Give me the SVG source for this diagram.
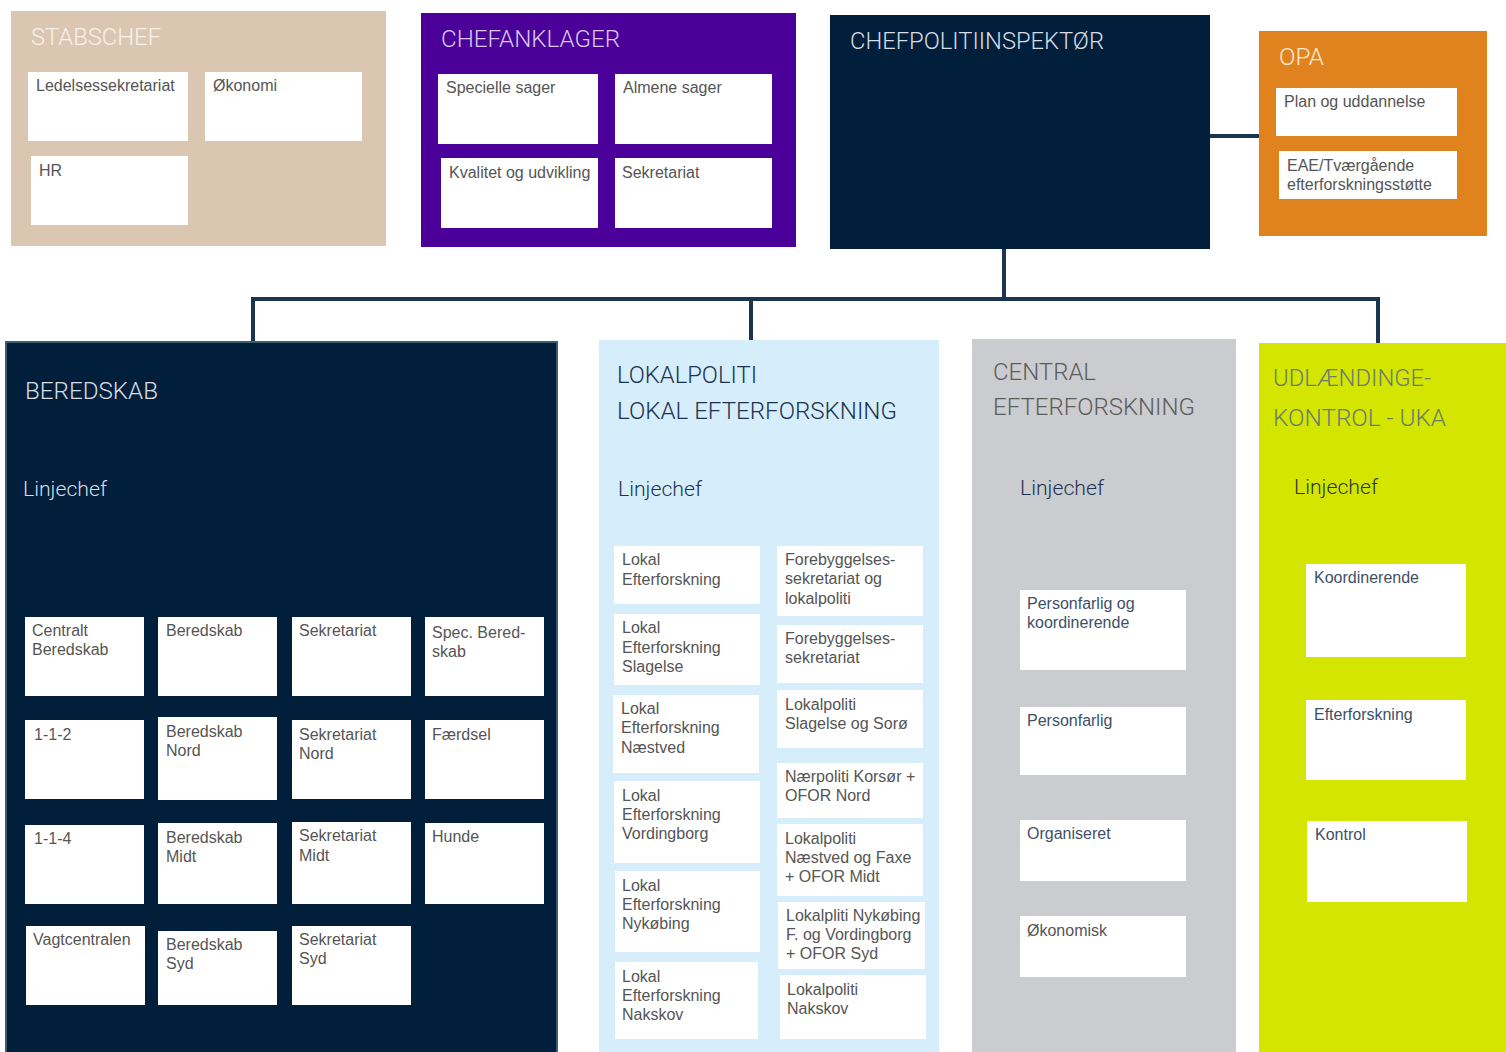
<svg xmlns="http://www.w3.org/2000/svg" width="1506" height="1052" viewBox="0 0 1506 1052">
<style>
.t{font-family:Roboto,"Liberation Sans",sans-serif;font-weight:300;font-size:23px}
.lc{font-family:Roboto,"Liberation Sans",sans-serif;font-weight:300;font-size:21px}
.b{font-family:"Liberation Sans",Arial,sans-serif;font-size:16px;fill:#555}
.bb{font-family:"Liberation Sans",Arial,sans-serif;font-size:16px;fill:#3d5068}
.w{fill:#fff}
.conn{stroke:#1b3550;stroke-width:4;fill:none}
</style>
<rect width="1506" height="1052" fill="#fff"/>
<g id="connectors">
<line class="conn" x1="1210" y1="136" x2="1259" y2="136"/>
<line class="conn" x1="1004" y1="249" x2="1004" y2="299"/>
<polyline class="conn" points="253,341 253,299 1378,299 1378,343"/>
<line class="conn" x1="751" y1="299" x2="751" y2="340"/>
</g>
<g id="stabschef">
<rect x="11" y="11" width="375" height="235" fill="#dbc6b1"/>
<text class="t" x="31" y="45" fill="#f7f1ea" textLength="130" lengthAdjust="spacingAndGlyphs">STABSCHEF</text>
<rect class="w" x="28" y="72" width="160" height="69"/><text class="b" x="36" y="91">Ledelsessekretariat</text>
<rect class="w" x="205" y="72" width="157" height="69"/><text class="b" x="213" y="91">Økonomi</text>
<rect class="w" x="31" y="156" width="157" height="69"/><text class="b" x="39" y="176">HR</text>
</g>
<g id="chefanklager">
<rect x="421" y="13" width="375" height="234" fill="#4a0099"/>
<text class="t" x="441" y="47" fill="#d8c8f0" textLength="179" lengthAdjust="spacingAndGlyphs">CHEFANKLAGER</text>
<rect class="w" x="438" y="74" width="160" height="70"/><text class="b" x="446" y="93">Specielle sager</text>
<rect class="w" x="615" y="74" width="157" height="70"/><text class="b" x="623" y="93">Almene sager</text>
<rect class="w" x="441" y="158" width="157" height="70"/><text class="b" x="449" y="178">Kvalitet og udvikling</text>
<rect class="w" x="615" y="158" width="157" height="70"/><text class="b" x="622" y="178">Sekretariat</text>
</g>
<g id="chefpolitiinspektor">
<rect x="830" y="15" width="380" height="234" fill="#011f3b"/>
<text class="t" x="850" y="49" fill="#d8dde5" textLength="254" lengthAdjust="spacingAndGlyphs">CHEFPOLITIINSPEKTØR</text>
</g>
<g id="opa">
<rect x="1259" y="31" width="228" height="205" fill="#e0821e"/>
<text class="t" x="1279" y="65" fill="#fbe9d6" textLength="45" lengthAdjust="spacingAndGlyphs">OPA</text>
<rect class="w" x="1276" y="88" width="181" height="48"/><text class="b" x="1284" y="107">Plan og uddannelse</text>
<rect class="w" x="1279" y="151" width="178" height="48"/><text class="b" x="1287" y="171">EAE/Tværgående</text><text class="b" x="1287" y="190">efterforskningsstøtte</text>
</g>
<g id="beredskab">
<rect x="6" y="342" width="551" height="712" fill="#011f3b" stroke="#3e5d75" stroke-width="2"/>
<text class="t" x="25" y="399" fill="#d8dde5" textLength="133" lengthAdjust="spacingAndGlyphs">BEREDSKAB</text>
<text class="lc" x="23" y="496" fill="#d8dde5" textLength="84" lengthAdjust="spacingAndGlyphs">Linjechef</text>
<rect class="w" x="25" y="617" width="119" height="79"/><text class="b" x="32" y="636">Centralt</text><text class="b" x="32" y="655">Beredskab</text>
<rect class="w" x="158" y="617" width="119" height="79"/><text class="b" x="166" y="636">Beredskab</text>
<rect class="w" x="292" y="617" width="119" height="79"/><text class="b" x="299" y="636">Sekretariat</text>
<rect class="w" x="425" y="617" width="119" height="79"/><text class="b" x="432" y="638">Spec. Bered-</text><text class="b" x="432" y="657">skab</text>
<rect class="w" x="25" y="720" width="119" height="79"/><text class="b" x="34" y="740">1-1-2</text>
<rect class="w" x="158" y="717" width="119" height="83"/><text class="b" x="166" y="737">Beredskab</text><text class="b" x="166" y="756">Nord</text>
<rect class="w" x="292" y="720" width="119" height="79"/><text class="b" x="299" y="740">Sekretariat</text><text class="b" x="299" y="759">Nord</text>
<rect class="w" x="425" y="720" width="119" height="79"/><text class="b" x="432" y="740">Færdsel</text>
<rect class="w" x="25" y="825" width="119" height="79"/><text class="b" x="34" y="844">1-1-4</text>
<rect class="w" x="158" y="823" width="119" height="81"/><text class="b" x="166" y="843">Beredskab</text><text class="b" x="166" y="862">Midt</text>
<rect class="w" x="292" y="822" width="119" height="82"/><text class="b" x="299" y="841">Sekretariat</text><text class="b" x="299" y="861">Midt</text>
<rect class="w" x="425" y="823" width="119" height="81"/><text class="b" x="432" y="842">Hunde</text>
<rect class="w" x="26" y="926" width="119" height="79"/><text class="b" x="33" y="945">Vagtcentralen</text>
<rect class="w" x="158" y="931" width="119" height="74"/><text class="b" x="166" y="950">Beredskab</text><text class="b" x="166" y="969">Syd</text>
<rect class="w" x="292" y="926" width="119" height="79"/><text class="b" x="299" y="945">Sekretariat</text><text class="b" x="299" y="964">Syd</text>
</g>
<g id="lokalpoliti">
<rect x="599" y="340" width="340" height="712" fill="#d6eefb"/>
<text class="t" x="617" y="383" fill="#1c3350" textLength="140" lengthAdjust="spacingAndGlyphs">LOKALPOLITI</text>
<text class="t" x="617" y="419" fill="#1c3350" textLength="280" lengthAdjust="spacingAndGlyphs">LOKAL EFTERFORSKNING</text>
<text class="lc" x="618" y="496" fill="#1c3350" textLength="84" lengthAdjust="spacingAndGlyphs">Linjechef</text>
<rect class="w" x="614" y="546" width="146" height="58"/><text class="b" x="622" y="565">Lokal</text><text class="b" x="622" y="585">Efterforskning</text>
<rect class="w" x="614" y="614" width="146" height="71"/><text class="b" x="622" y="633">Lokal</text><text class="b" x="622" y="653">Efterforskning</text><text class="b" x="622" y="672">Slagelse</text>
<rect class="w" x="613" y="695" width="146" height="78"/><text class="b" x="621" y="714">Lokal</text><text class="b" x="621" y="733">Efterforskning</text><text class="b" x="621" y="753">Næstved</text>
<rect class="w" x="614" y="781" width="146" height="82"/><text class="b" x="622" y="801">Lokal</text><text class="b" x="622" y="820">Efterforskning</text><text class="b" x="622" y="839">Vordingborg</text>
<rect class="w" x="615" y="871" width="145" height="81"/><text class="b" x="622" y="891">Lokal</text><text class="b" x="622" y="910">Efterforskning</text><text class="b" x="622" y="929">Nykøbing</text>
<rect class="w" x="615" y="962" width="143" height="77"/><text class="b" x="622" y="982">Lokal</text><text class="b" x="622" y="1001">Efterforskning</text><text class="b" x="622" y="1020">Nakskov</text>
<rect class="w" x="777" y="546" width="146" height="70"/><text class="b" x="785" y="565">Forebyggelses-</text><text class="b" x="785" y="584">sekretariat og</text><text class="b" x="785" y="604">lokalpoliti</text>
<rect class="w" x="777" y="625" width="146" height="58"/><text class="b" x="785" y="644">Forebyggelses-</text><text class="b" x="785" y="663">sekretariat</text>
<rect class="w" x="777" y="690" width="146" height="58"/><text class="b" x="785" y="710">Lokalpoliti</text><text class="b" x="785" y="729">Slagelse og Sorø</text>
<rect class="w" x="777" y="763" width="146" height="55"/><text class="b" x="785" y="782">Nærpoliti Korsør +</text><text class="b" x="785" y="801">OFOR Nord</text>
<rect class="w" x="777" y="824" width="146" height="72"/><text class="b" x="785" y="844">Lokalpoliti</text><text class="b" x="785" y="863">Næstved og Faxe</text><text class="b" x="785" y="882">+ OFOR Midt</text>
<rect class="w" x="778" y="902" width="147" height="67"/><text class="b" x="786" y="921">Lokalpliti Nykøbing</text><text class="b" x="786" y="940">F. og Vordingborg</text><text class="b" x="786" y="959">+ OFOR Syd</text>
<rect class="w" x="780" y="975" width="146" height="64"/><text class="b" x="787" y="995">Lokalpoliti</text><text class="b" x="787" y="1014">Nakskov</text>
</g>
<g id="central-efterforskning">
<rect x="972" y="339" width="264" height="713" fill="#cbcccf"/>
<text class="t" x="993" y="380" fill="#5c5c5c" textLength="103" lengthAdjust="spacingAndGlyphs">CENTRAL</text>
<text class="t" x="993" y="415" fill="#5c5c5c" textLength="202" lengthAdjust="spacingAndGlyphs">EFTERFORSKNING</text>
<text class="lc" x="1020" y="495" fill="#1c3350" textLength="84" lengthAdjust="spacingAndGlyphs">Linjechef</text>
<rect class="w" x="1020" y="590" width="166" height="80"/><text class="bb" x="1027" y="609">Personfarlig og</text><text class="bb" x="1027" y="628">koordinerende</text>
<rect class="w" x="1020" y="707" width="166" height="68"/><text class="bb" x="1027" y="726">Personfarlig</text>
<rect class="w" x="1020" y="820" width="166" height="61"/><text class="bb" x="1027" y="839">Organiseret</text>
<rect class="w" x="1020" y="916" width="166" height="61"/><text class="b" x="1027" y="936">Økonomisk</text>
</g>
<g id="udlaendingekontrol">
<rect x="1259" y="343" width="247" height="709" fill="#d4e600"/>
<text class="t" x="1273" y="386" fill="#6b7b72" textLength="158" lengthAdjust="spacingAndGlyphs">UDLÆNDINGE-</text>
<text class="t" x="1273" y="426" fill="#6b7b72" textLength="173" lengthAdjust="spacingAndGlyphs">KONTROL - UKA</text>
<text class="lc" x="1294" y="494" fill="#2a3540" textLength="84" lengthAdjust="spacingAndGlyphs">Linjechef</text>
<rect class="w" x="1306" y="564" width="160" height="93"/><text class="bb" x="1314" y="583">Koordinerende</text>
<rect class="w" x="1306" y="700" width="160" height="80"/><text class="bb" x="1314" y="720">Efterforskning</text>
<rect class="w" x="1307" y="821" width="160" height="81"/><text class="bb" x="1315" y="840">Kontrol</text>
</g>
</svg>
